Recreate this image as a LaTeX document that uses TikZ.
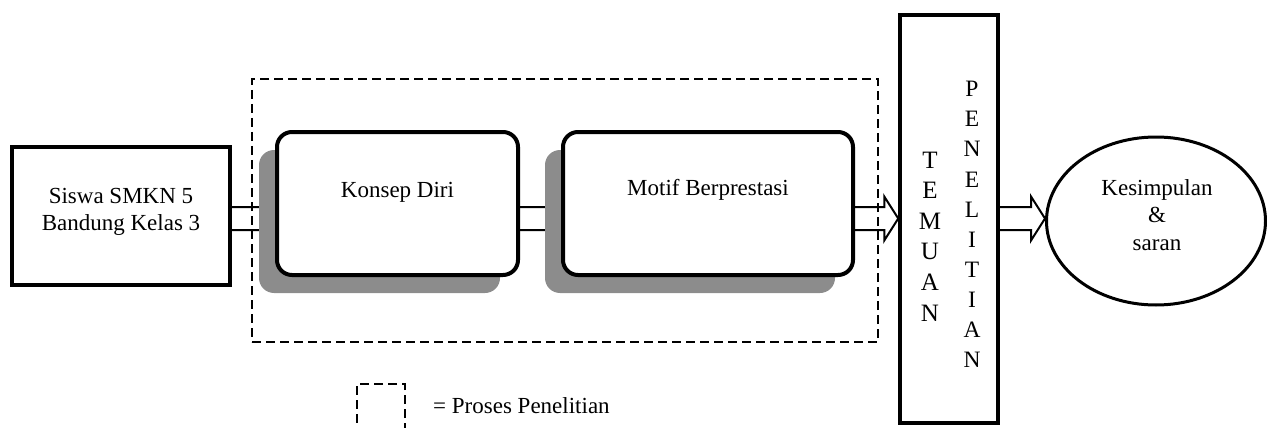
\documentclass[tikz,border=0pt]{standalone}
\usepackage{fontspec}
\setmainfont{Liberation Serif}
\usetikzlibrary{shapes.geometric,shadows,calc}
\pgfdeclarelayer{background}
\pgfsetlayers{background,main}

\tikzset{
  box/.style={draw, line width=3.5pt, fill=white, inner sep=0pt},
  roundbox/.style={box, rounded corners=15pt, line width=4pt,
    general shadow={shadow xshift=-18pt, shadow yshift=-18pt, fill=black!45}},
  txt/.style={font=\fontsize{23}{27.5}\selectfont, align=center, inner sep=0pt},
  flowline/.style={line width=2pt, line join=miter},
  processframe/.style={draw, line width=2.5pt, dash pattern=on 9pt off 5pt,
    inner sep=0pt},
}

% hollow block arrow from node #1 to node #2 along the axis coordinate
\newcommand\blockarrow[2]{%
  \draw[flowline] let \p1=(#1.east |- axis), \p2=(#2.west |- axis) in
    (\x1,\y1+11.5pt) -- (\x2-14pt,\y1+11.5pt) -- (\x2-14pt,\y1+22pt)
    -- (\x2,\y1) -- (\x2-14pt,\y1-22pt) -- (\x2-14pt,\y1-11.5pt)
    -- (\x1,\y1-11.5pt);}

\begin{document}
\begin{tikzpicture}[x=1pt,y=-1pt]
\useasboundingbox (0,0) rectangle (1267,428);

\coordinate (axis) at (0,218.5);

% research process frame
\node[processframe, minimum width=626pt, minimum height=263pt] (proses) at (565,210.5) {};

% input
\node[box, minimum width=218pt, minimum height=138pt] (siswa) at (121,216) {};
\node[txt] (siswatxt) at (121,212) {Siswa SMKN 5\\Bandung Kelas 3};

% variables
\node[roundbox, minimum width=241pt, minimum height=143pt] (konsep) at (397.5,203.5) {};
\node[txt] (konseptxt) at (397.5,192) {Konsep Diri};

\node[roundbox, minimum width=290pt, minimum height=143pt] (motif) at (708,203.5) {};
\node[txt] (motiftxt) at (708,190) {Motif Berprestasi};

% findings
\node[box, minimum width=98pt, minimum height=408pt] (temuan) at (949,219) {};
\node[txt, font=\fontsize{25}{30.6}\selectfont] (temuantxt) at (930,236.5) {T\\E\\M\\U\\A\\N};
\node[txt, font=\fontsize{23.5}{30.1}\selectfont] (penelitiantxt) at (972,224.5) {P\\E\\N\\E\\L\\I\\T\\I\\A\\N};

% conclusion
\node[draw, ellipse, line width=3pt, minimum width=219pt, minimum height=168pt, inner sep=0pt] (kesimpulan) at (1156,221) {};
\node[txt] (kesimpulantxt) at (1157,215) {Kesimpulan\\\&\\saran};

% connectors
\begin{pgfonlayer}{background}
  \blockarrow{siswa}{konsep}
  \blockarrow{konsep}{motif}
\end{pgfonlayer}
\blockarrow{motif}{temuan}
\blockarrow{temuan}{kesimpulan}

% legend
\node[processframe, minimum width=48pt, minimum height=56pt] (legendbox) at (381,412) {};
\node[txt, anchor=base west] (legendtxt) at (433,413) {= Proses Penelitian};
\end{tikzpicture}
\end{document}
